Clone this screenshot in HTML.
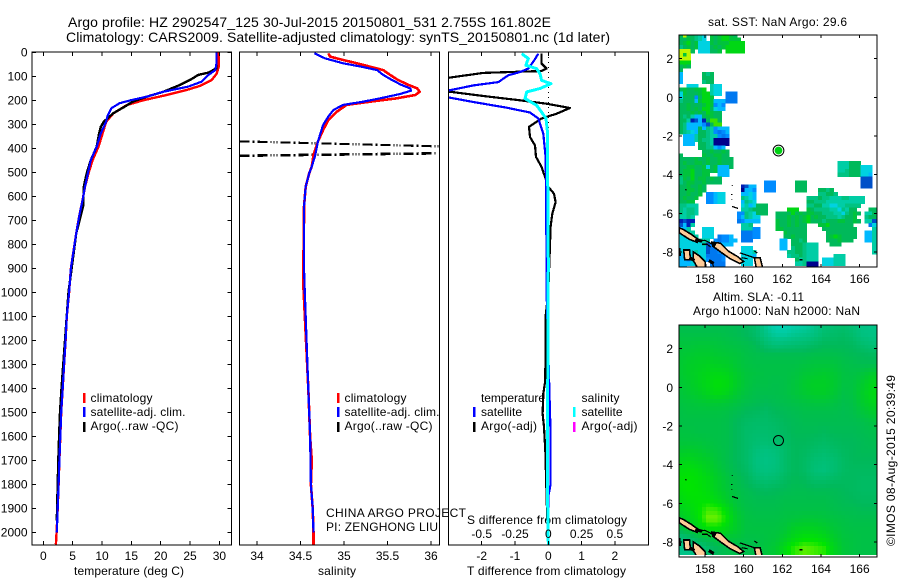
<!DOCTYPE html>
<html>
<head>
<meta charset="utf-8">
<title>Argo profile</title>
<style>
html,body{margin:0;padding:0;background:#fff;}
svg{display:block;}
text{font-family:"Liberation Sans",sans-serif;font-size:12px;fill:#000;}
.t14{font-size:14px;}
</style>
</head>
<body>
<svg id="fig" xmlns="http://www.w3.org/2000/svg" width="900" height="580" viewBox="0 0 900 580">
<defs>
<clipPath id="clipT"><rect x="32" y="52" width="199.5" height="493"/></clipPath>
<clipPath id="clipS"><rect x="239.5" y="52" width="200" height="493"/></clipPath>
<clipPath id="clipD"><rect x="448.5" y="52" width="200" height="493"/></clipPath>
<clipPath id="clipM1"><rect x="679" y="35" width="198" height="232"/></clipPath>
<clipPath id="clipM2"><rect x="679" y="325" width="198" height="230"/></clipPath>
</defs>
<rect width="900" height="580" fill="#fff"/>

<text class="t14" x="68" y="27" textLength="483">Argo profile: HZ 2902547_125 30-Jul-2015 20150801_531 2.755S 161.802E</text>
<text class="t14" x="66" y="42" textLength="544">Climatology: CARS2009. Satellite-adjusted climatology: synTS_20150801.nc (1d later)</text>

<text x="74" y="575" textLength="110">temperature (deg C)</text>
<text x="318" y="575" textLength="38">salinity</text>
<text x="467" y="575" textLength="159">T difference from climatology</text>
<text x="467" y="524" textLength="160">S difference from climatology</text>

<g id="panels"></g>

<g>
<rect x="83" y="393" width="2.5" height="10" fill="#f00"/>
<rect x="83" y="407" width="2.5" height="10" fill="#00f"/>
<rect x="83" y="422" width="2.5" height="10" fill="#000"/>
<text x="90.5" y="402" textLength="62">climatology</text>
<text x="90.5" y="416" textLength="95">satellite-adj. clim.</text>
<text x="90.5" y="430" textLength="88">Argo(..raw -QC)</text>
</g>
<g>
<rect x="337" y="393" width="2.5" height="10" fill="#f00"/>
<rect x="337" y="407" width="2.5" height="10" fill="#00f"/>
<rect x="337" y="422" width="2.5" height="10" fill="#000"/>
<text x="344.5" y="402" textLength="62">climatology</text>
<text x="344.5" y="416" textLength="95">satellite-adj. clim.</text>
<text x="344.5" y="430" textLength="88">Argo(..raw -QC)</text>
</g>
<g>
<text x="481" y="402" textLength="64">temperature</text>
<text x="581.5" y="402" textLength="38">salinity</text>
<rect x="473" y="407" width="2.5" height="10" fill="#00f"/>
<rect x="473" y="422" width="2.5" height="10" fill="#000"/>
<rect x="573" y="407" width="2.5" height="10" fill="#0ff"/>
<rect x="573" y="422" width="2.5" height="10" fill="#f0f"/>
<text x="481" y="416" textLength="41">satellite</text>
<text x="481" y="430" textLength="56">Argo(-adj)</text>
<text x="581.5" y="416" textLength="41">satellite</text>
<text x="581.5" y="430" textLength="56">Argo(-adj)</text>
</g>

<text x="326" y="517" textLength="140">CHINA ARGO PROJECT</text>
<text x="326" y="531" textLength="112">PI: ZENGHONG LIU</text>

<text x="708" y="26" textLength="139">sat. SST: NaN Argo: 29.6</text>
<text x="713" y="301" textLength="91">Altim. SLA: -0.11</text>
<text x="693" y="315" textLength="167">Argo h1000: NaN h2000: NaN</text>
<text transform="translate(895,546) rotate(-90)" x="0" y="0" textLength="171">©IMOS 08-Aug-2015 20:39:49</text>
</svg>

<script>
/* ---------- depth axis ---------- */
const depthTicks = [0,100,200,300,400,500,600,700,800,900,1000,1100,1200,1300,1400,1500,1600,1700,1800,1900,2000];

/* ---------- temperature panel ---------- */
const tempTicks = [0,5,10,15,20,25,30];
const tempClimDepth = [0,60,90,115,140,157,178,200,220,255,290,338,393,449,504,560,615,685,755,900,1000,1100,1200,1300,1400,1500,1600,1700,1800,1900,2000,2050];
const tempClimValue = [29.9,29.9,29.5,28.7,26.7,24.4,21,17,14.2,11.9,10.7,10.1,9.4,8.4,7.7,7.1,6.7,6.1,5.6,4.7,4.4,4.0,3.8,3.55,3.3,3.05,2.9,2.75,2.6,2.45,2.27,2.15];
const tempArgoDepth = [0,67,85,94,115,136,164,185,205,226,254,289,310,338,393,449,504,560,640,755,1000,1400,1500,1600,1700,1800,1950];
const tempArgoValue = [29.5,29.5,28.1,26.4,25,23.3,20.5,17.6,15.3,13.9,11.9,10.3,9.8,9.5,9.1,8.1,7.4,6.9,6.8,5.6,4.3,3.1,2.85,2.7,2.55,2.45,2.3];
const tempSatDepth = [0,45,74,95,122,143,164,185,199,212,233,268,289,338,393,449,504,560,615,685,755,900,1000,1100,1200,1300,1400,1500,1600,1700,1800,1900,2000];
const tempSatValue = [29.5,29.5,29.3,28.1,27,24.7,20.5,17.6,15,13,11.6,10.9,10.7,9.8,9.1,8.1,7.6,7.1,6.7,6.1,5.6,4.7,4.4,4.0,3.8,3.55,3.3,3.05,2.9,2.75,2.6,2.45,2.3];

/* ---------- salinity panel ---------- */
const salTicks = [34,34.5,35,35.5,36];
const salClimDepth = [4,18,32,46,60,74,94,115,136,150,164,178,192,206,219,247,282,324,372,428,476,504,560,643,700,950,1400,1600,1700,1800,1900,2000,2050];
const salClimValue = [34.82,34.84,34.99,35.15,35.3,35.45,35.53,35.62,35.74,35.84,35.87,35.82,35.6,35.3,35.03,34.92,34.82,34.76,34.7,34.65,34.63,34.6,34.56,34.54,34.54,34.53,34.59,34.61,34.63,34.62,34.64,34.65,34.65];
const salSatDepth = [4,25,46,60,74,94,115,136,150,160,174,192,206,219,240,268,303,372,428,476,504,560,643,700,900,1000,1400,1600,1800,1900,2000];
const salSatValue = [34.66,34.78,34.99,35.2,35.38,35.45,35.55,35.66,35.76,35.77,35.64,35.41,35.22,34.99,34.88,34.82,34.76,34.7,34.67,34.63,34.6,34.56,34.54,34.54,34.54,34.55,34.59,34.61,34.62,34.64,34.65];
const salArgoUpperValue = [33.8,36.1];
const salArgoUpperDepth = [371,392];
const salArgoLowerValue = [33.8,36.05];
const salArgoLowerDepth = [431,421];

/* ---------- difference panel ---------- */
const tDiffTicks = [-2,-1,0,1,2];
const sDiffTicks = [-0.5,-0.25,0,0.25,0.5];
const sDiffTickLabels = ["-0.5","-0.25","0","0.25","0.5"];
const tDiffArgoDepth = [6,47,68,78,86,110,160,182,200,214,232,256,276,311,353,388,436,478,519,561,589,624,672,728,1000,1100,1367,1422,1506,1561,1658,1853,1950];
const tDiffArgoValue = [-0.2,-0.2,-0.05,-0.2,-1.95,-3.2,-3.2,-1.95,-0.85,-0.05,0.65,0.25,-0.2,-0.58,-0.55,-0.4,-0.37,-0.2,-0.1,0,0.17,0.22,0.12,0.07,0.0,-0.08,-0.09,-0.15,-0.17,-0.13,-0.09,-0.05,-0.03];
const tDiffSatDepth = [6,33,68,82,96,124,138,158,165,183,207,231,251,276,339,436,533,672,825,1000,1500,1600,1800,1850,1950];
const tDiffSatValue = [-0.3,-0.42,-0.6,-0.85,-1.2,-1.5,-2.25,-2.95,-3.2,-3.2,-2.25,-1.25,-0.55,-0.3,-0.15,-0.08,-0.07,-0.07,-0.05,-0.05,0.05,0.07,0.07,0,0];
const sDiffSatDepth = [6,26,54,68,89,117,131,151,165,193,221,249,276,325,464,881,1500,1850,2050];
const sDiffSatValue = [-0.2,-0.15,-0.168,-0.0875,-0.0625,-0.05,0.02,-0.0625,-0.1625,-0.175,-0.0875,-0.05,-0.0175,-0.0075,-0.005,0,-0.005,-0.005,0];

/* ---------- maps ---------- */
const lonTicks = [158,160,162,164,166];
const latTicks = [2,0,-2,-4,-6,-8];
const argoLon = 161.802;
const argoLat = -2.755;
/* SST cells: 0.2 deg grid, first row centred on 3.2N, letters index sstPalette, "." = NaN */
const sstPalette = {a:"#00008c",b:"#001eb4",c:"#0050c8",d:"#0078f0",e:"#008cff",f:"#00b9ff",g:"#00d2e1",h:"#00cda5",i:"#00c382",j:"#00b95a",k:"#00c33c",l:"#00d714",m:"#3ce100",n:"#beF500"};
const sstRows = [
"jnjjihg.kjkllkj",
"jjkjihg.kjkllkkk",
"jkljkgggkjkkkllll",
"ijkjkgggjkjklllll",
"nnnj.gggjjk.lllll",
"nkn",
"nnn",
"lll",
"jkj",
"j",
"f.....jij",
"f.....jjj",
"f.....ijj",
"..ggg...hgg",
"jkjjkkl.hgg",
"gkjjjkllhgg.ddd",
"gjjjejllk...ddd",
"ijjjfkllkfffddd",
"jjkjjjklkefe",
"jjkjkjlljgff",
"jjjkjkjlkjj",
"jijhffjkkjj",
"jjhbcfbjmmj",
"jiffffecjmm",
"jifffjfihefff",
"jihgfjjihedef",
".fffhjjihhede",
".fffhjiihaaaa",
".fff.jjihaaaa",
".....jjiifef",
"......jjkjjkj",
"j.....kjjkkjj",
"jjjjkjjkjjkjjj",
"jkjjkkjkjjkjjj...........................hhhjjj",
"jjkkjjkgjkfffj...........................hhhjjjggg",
"jkkljjkkjkfff............................hhijjjggg",
"jkkljjkk..fff............................iiijjjggf",
"ikjljkkjkjj....................................ccc",
"ijkkjjkjjjj...........eee.....jjj..............ccc",
"jjkjjkj.........bcff..eee.....jjj..............ccc",
"jjkkjkj.........affe..eee.....jjj...jjij",
"jjkjjk.eefgg....ffgf................iijji",
"jkjjk..eefgg....ihgf.............iiijiihhhiihhhh",
"jjkk...eefgg....fihg.............jjiiihhhhhhhhhh",
"iihhh...........ghfgjjj..........iijjhhgghhiiii",
"ihiih...........hhijjjj.....lll..kjiiiihhgihjj...jj",
"ihiih..........eeihgjjj..jjjjljkjkkjjiiihhgijkj.hhj",
"hhih...........efihgg....jjjkjkjkljkjjiiihijjk..ijj",
"bcbb...........deffff....kjjkjkjkljjjijjjkkjjkj.hhc",
"cfbh............hhi......kjjkjkjj...kkljjjjjj....dg",
"ffh...ggg.......hhhee....kkjjjjjj....jjjjjjjjj....h",
"hhhh..ggg.......dddee......kjjjjj.....jjjjjjjj..ffh",
"ggghh.ggg.deef..dddee......jjkjjj.....jklkjjjj..ffh",
"gggghhhh.edeeff.ddd.......ff.jjij.....jjjkjjj...ffh",
"gggggghcdeffff............ff.jjjihhh...jjj........h",
"gggggggcddff....ggg.......ff.ijjihhh..............h",
"gfgghggcdde.....gggh........iijjihhh..............h",
"fffggggdddde....gggf........hiijihhh....hhh",
"ffeggggeddde....ggg...........jhihhh.ggghhh",
"fffgg...dddd....ggg...........hhiaaa.ggghhh",
"ff......dddd.....................aaa"
];
/* SLA field, 0.5 deg grid from 3.2N, 156.65E; value indexes slaStops */
const slaStops = [[0,215,200],[0,195,135],[0,185,90],[0,205,40],[0,228,0],[110,240,0]];
const slaRows = [
[2.2,2.2,2.2,2.2,2.2,2.2,2.1,1.9,1.6,0.8,0.3,0.3,0.5,0.6,0.9,1.4,1.5,1.6,1.4,1.1,1.0],
[2.4,2.4,2.4,2.4,2.4,2.3,2.2,2.0,1.7,1.1,0.7,0.7,0.9,1.0,1.2,1.6,1.7,1.8,1.6,1.2,1.1],
[2.6,2.6,2.7,2.7,2.6,2.5,2.4,2.3,2.1,1.6,1.3,1.4,1.5,1.6,1.8,2.0,2.0,2.0,1.9,1.6,1.4],
[2.7,2.8,2.9,2.9,2.8,2.7,2.6,2.4,2.3,2.2,2.2,2.2,2.2,2.2,2.3,2.3,2.3,2.2,2.1,2.0,1.9],
[2.8,3.0,3.1,3.2,3.1,3.0,2.7,2.5,2.4,2.4,2.4,2.4,2.4,2.5,2.6,2.6,2.6,2.4,2.3,2.2,2.2],
[2.8,3.0,3.2,3.4,3.5,3.3,2.9,2.6,2.5,2.4,2.4,2.4,2.5,2.7,2.8,2.9,2.8,2.5,2.4,2.6,2.9],
[2.7,2.9,3.2,3.5,3.8,3.6,3.0,2.6,2.4,2.4,2.3,2.4,2.6,2.9,3.1,3.1,2.9,2.5,2.5,2.9,3.4],
[2.6,2.8,3.0,3.3,3.6,3.3,2.8,2.5,2.3,2.3,2.3,2.4,2.6,2.8,3.0,3.0,2.8,2.4,2.5,3.0,3.5],
[2.5,2.6,2.7,2.8,2.8,2.7,2.5,2.3,2.2,2.1,2.2,2.3,2.4,2.5,2.6,2.6,2.5,2.3,2.4,2.9,3.3],
[2.4,2.5,2.5,2.5,2.5,2.4,2.2,2.0,1.9,1.8,2.0,2.1,2.2,2.3,2.3,2.3,2.3,2.2,2.3,2.6,2.9],
[2.4,2.4,2.4,2.4,2.4,2.3,2.0,1.8,1.7,1.7,1.8,2.0,2.1,2.2,2.2,2.2,2.2,2.2,2.2,2.3,2.5],
[2.5,2.5,2.4,2.4,2.4,2.3,2.0,1.7,1.6,1.6,1.7,1.9,2.1,2.1,2.1,2.0,2.1,2.1,2.1,2.2,2.3],
[2.6,2.6,2.6,2.5,2.4,2.3,2.0,1.7,1.5,1.5,1.6,1.8,2.0,2.0,1.9,1.8,1.9,2.0,2.0,2.1,2.2],
[2.9,3.0,2.9,2.7,2.5,2.3,2.0,1.7,1.3,1.2,1.3,1.7,2.0,1.9,1.7,1.6,1.7,1.9,2.0,2.1,2.1],
[3.3,3.4,3.2,3.0,2.6,2.3,2.0,1.7,1.2,1.1,1.2,1.7,2.0,1.8,1.5,1.4,1.5,1.8,2.0,2.0,2.0],
[3.7,3.8,3.6,3.2,2.8,2.4,2.1,1.8,1.3,1.2,1.3,1.7,2.0,1.8,1.4,1.3,1.5,1.8,1.9,1.9,1.9],
[3.9,4.0,3.8,3.5,3.0,2.6,2.3,2.0,1.6,1.5,1.6,1.9,2.1,2.0,1.7,1.7,1.8,1.9,1.9,1.8,1.8],
[3.8,4.0,3.9,3.6,3.1,2.7,2.4,2.2,2.0,1.9,2.0,2.1,2.2,2.2,2.1,2.1,2.1,2.0,1.9,1.8,1.8],
[3.5,3.8,3.9,3.8,3.4,2.9,2.5,2.3,2.2,2.2,2.2,2.3,2.3,2.3,2.3,2.3,2.2,2.1,2.0,1.9,1.9],
[3.2,3.5,3.9,4.5,4.4,3.5,2.7,2.4,2.3,2.3,2.3,2.4,2.4,2.4,2.4,2.4,2.3,2.2,2.2,2.1,2.1],
[2.8,3.2,3.8,5.0,5.0,3.9,2.9,2.5,2.4,2.4,2.4,2.5,2.6,2.7,2.7,2.6,2.5,2.4,2.3,2.3,2.3],
[2.3,2.8,3.3,3.8,3.9,3.4,2.9,2.5,2.5,2.5,2.5,2.7,3.1,3.2,3.2,3.0,2.7,2.5,2.4,2.4,2.4],
[1.3,1.6,2.2,2.4,2.7,2.7,2.6,2.4,2.4,2.5,2.6,3.0,3.5,3.8,3.8,3.5,3.0,2.6,2.5,2.4,2.4],
[1.0,1.0,1.2,1.7,2.1,2.3,2.3,2.3,2.3,2.6,2.8,3.6,4.4,4.8,4.6,4.3,3.3,2.7,2.5,2.4,2.4]
];
/* coastline outlines, [lon,lat] */
const landPolygons = [
[[156.67,-6.75],[156.9,-6.85],[157.3,-7.1],[157.65,-7.35],[157.6,-7.5],[157.2,-7.35],[156.8,-7.1],[156.67,-7.0]],
[[158.4,-7.5],[158.8,-7.55],[159.2,-7.95],[159.7,-8.25],[160,-8.5],[159.8,-8.6],[159.3,-8.35],[158.8,-8.0],[158.4,-7.7]],
[[156.9,-7.9],[157.2,-7.9],[157.25,-8.4],[156.95,-8.4]],
[[157.4,-8.0],[157.7,-8.2],[158.0,-8.5],[158.05,-8.8],[157.6,-8.8],[157.4,-8.45]],
[[160.55,-8.3],[160.85,-8.3],[160.98,-8.8],[160.65,-8.8]]
];
const coastFragments = [
[[157.65,-7.45],[158.0,-7.4],[158.4,-7.6]],
[[157.85,-7.6],[158.1,-7.6],[158.3,-7.75]],
[[159.8,-8.05],[160.1,-8.15],[160.55,-8.3]],
[[159.9,-8.3],[160.2,-8.35]],
[[160.55,-7.95],[160.7,-8.05]],
[[156.7,-7.8],[156.72,-8.2]],
[[158.35,-8.5],[158.45,-8.78]],
[[159.4,-4.55],[159.42,-4.6]],
[[157.0,-4.75],[157.02,-4.82]],
[[159.4,-5.65],[159.7,-5.75]],
[[159.38,-5.0],[159.38,-5.05]],
[[159.38,-5.25],[159.38,-5.3]],
[[162.9,-8.4],[163.05,-8.4]]
];
const coastBlobs = [
[[157.5,-7.35],[157.85,-7.45]],
[[158.3,-7.5],[158.55,-7.65]],
[[158.2,-8.45],[158.45,-8.6]],
[[157.2,-8.3],[157.45,-8.45]]
];

/* ---------- axis functions ---------- */
const yDepth = d => 52.3 + 0.24 * d;
const xTemp = t => 43.3 + 5.87 * t;
const xSal = s => 257 + 87 * (s - 34);
const xTDiff = t => 548.3 + 33.3 * t;
const xSDiff = s => 548.3 + 133.2 * s;
const xLon = lon => 705 + 19.33 * (lon - 158);
const yLatTop = lat => 97.3 - 19.33 * lat;
const yLatBot = lat => 387.3 - 19.33 * lat;

const NS = "http://www.w3.org/2000/svg";
const root = document.getElementById("panels");
function make(tag, attrs, parent) {
  const n = document.createElementNS(NS, tag);
  for (const k in attrs) n.setAttribute(k, attrs[k]);
  (parent || root).appendChild(n);
  return n;
}
function label(str, x, y, anchor) {
  const t = make("text", {x: x, y: y, "text-anchor": anchor});
  t.textContent = str;
  return t;
}
function tick(x1, y1, x2, y2) {
  return make("line", {x1: x1, y1: y1, x2: x2, y2: y2, stroke: "#000", "stroke-width": 1, "shape-rendering": "crispEdges"});
}
function frame(x, y, w, h) {
  return make("rect", {x: x, y: y, width: w, height: h, fill: "none", stroke: "#000", "stroke-width": 1.2, "shape-rendering": "crispEdges"});
}
function profile(depths, values, xFn, color, width, clip) {
  const pts = depths.map((d, i) => xFn(values[i]).toFixed(1) + "," + yDepth(d).toFixed(1)).join(" ");
  return make("polyline", {points: pts, fill: "none", stroke: color, "stroke-width": width, "stroke-linejoin": "round", "shape-rendering": "crispEdges", "clip-path": "url(#" + clip + ")"});
}
function xTicks(values, xFn, labels, labelY, top, bottom) {
  values.forEach((v, i) => {
    const a = tick(xFn(v), bottom, xFn(v), bottom - 4);
    
    
    const b = tick(xFn(v), top, xFn(v), top + 4);
    
    
    const t = label(labels ? labels[i] : String(v), xFn(v), labelY, "middle");
    
    
  });
}

/* ---------- temperature panel ---------- */
const l1 = profile(tempClimDepth, tempClimValue, xTemp, "#f00", 2.4, "clipT");


const l2 = profile(tempArgoDepth, tempArgoValue, xTemp, "#000", 2.4, "clipT");


const l3 = profile(tempSatDepth, tempSatValue, xTemp, "#00f", 2.2, "clipT");


const f1 = frame(32, 52, 199.5, 493);


xTicks(tempTicks, xTemp, null, 560, 52, 545);
depthTicks.forEach(d => {
  const a = tick(32, yDepth(d), 36, yDepth(d));
  
  
  const b = tick(231.5, yDepth(d), 227.5, yDepth(d));
  
  
  const t = label(String(d), 27.5, yDepth(d) + 4, "end");
  
  
});

/* ---------- salinity panel ---------- */
const dashDot = "10,3,2,3,10,3,1,2,1,2,1,3";
const s0 = make("polyline", {points: salArgoUpperValue.map((v, i) => xSal(v) + "," + yDepth(salArgoUpperDepth[i])).join(" "), fill: "none", stroke: "#000", "stroke-width": 2.2, "stroke-dasharray": dashDot, "shape-rendering": "crispEdges", "clip-path": "url(#clipS)"});


const s00 = make("polyline", {points: salArgoLowerValue.map((v, i) => xSal(v) + "," + yDepth(salArgoLowerDepth[i])).join(" "), fill: "none", stroke: "#000", "stroke-width": 2.6, "stroke-dasharray": dashDot, "shape-rendering": "crispEdges", "clip-path": "url(#clipS)"});


const s1 = profile(salClimDepth, salClimValue, xSal, "#f00", 2.6, "clipS");


const s2 = profile(salSatDepth, salSatValue, xSal, "#00f", 2.2, "clipS");


const f2 = frame(239.5, 52, 200, 493);


xTicks(salTicks, xSal, null, 560, 52, 545);

/* ---------- difference panel ---------- */
const zero = make("line", {x1: xTDiff(0), y1: 52, x2: xTDiff(0), y2: 545, stroke: "#000", "stroke-width": 1, "stroke-dasharray": "1,4", "shape-rendering": "crispEdges"});


const d1 = profile(tDiffArgoDepth, tDiffArgoValue, xTDiff, "#000", 2.2, "clipD");


const d2 = profile(tDiffSatDepth, tDiffSatValue, xTDiff, "#00f", 2.2, "clipD");


const d3 = profile(sDiffSatDepth, sDiffSatValue, xSDiff, "#0ff", 3, "clipD");


const f3 = frame(448.5, 52, 200, 493);


xTicks(tDiffTicks, xTDiff, null, 560, 52, 545);
sDiffTicks.forEach((v, i) => {
  const t = label(sDiffTickLabels[i], xSDiff(v), 538, "middle");
  
  
});

/* ---------- maps ---------- */
const cellLon = 0.2, cellLat = 0.2;
const lonStart = 156.65, latStart = 3.2;

function drawLand(yLat, clip) {
  landPolygons.forEach(poly => {
    const p = make("polygon", {points: poly.map(q => xLon(q[0]).toFixed(1) + "," + yLat(q[1]).toFixed(1)).join(" "), fill: "#ffcc99", stroke: "#000", "stroke-width": 1.6, "shape-rendering": "crispEdges", "clip-path": "url(#" + clip + ")"});
    
    
  });
  coastFragments.forEach(line => {
    const p = make("polyline", {points: line.map(q => xLon(q[0]).toFixed(1) + "," + yLat(q[1]).toFixed(1)).join(" "), fill: "none", stroke: "#000", "stroke-width": 1.2, "shape-rendering": "crispEdges", "clip-path": "url(#" + clip + ")"});
    
    
  });
  coastBlobs.forEach(line => {
    const p = make("polyline", {points: line.map(q => xLon(q[0]).toFixed(1) + "," + yLat(q[1]).toFixed(1)).join(" "), fill: "none", stroke: "#000", "stroke-width": 3.2, "shape-rendering": "crispEdges", "clip-path": "url(#" + clip + ")"});
    
    
  });
}
function drawMapAxes(yLat, top, bottom) {
  const fr = frame(679, top, 198, bottom - top);
  
  
  lonTicks.forEach(lon => {
    const a = tick(xLon(lon), bottom, xLon(lon), bottom - 3);
    
    
    const b = tick(xLon(lon), top, xLon(lon), top + 3);
    
    
    const t = label(String(lon), xLon(lon), bottom + 16, "middle");
    
    
  });
  latTicks.forEach(lat => {
    const a = tick(679, yLat(lat), 682, yLat(lat));
    
    
    const b = tick(877, yLat(lat), 874, yLat(lat));
    
    
    const t = label(String(lat), 673, yLat(lat) + 4.5, "end");
    
    
  });
}

/* SST map */
const sstGroup = make("g", {"clip-path": "url(#clipM1)", "shape-rendering": "crispEdges"});


sstRows.forEach((row, r) => {
  for (let c = 0; c < row.length; c++) {
    const ch = row[c];
    if (ch === ".") continue;
    const lon0 = lonStart + c * cellLon;
    const lat0 = latStart + cellLat / 2 - r * cellLat;
    const cell = make("rect", {x: xLon(lon0).toFixed(2), y: yLatTop(lat0).toFixed(2), width: (19.33 * cellLon + 0.4).toFixed(2), height: (19.33 * cellLat + 0.4).toFixed(2), fill: sstPalette[ch]}, sstGroup);
    
    
  }
});
drawLand(yLatTop, "clipM1");
const ringOuter = make("circle", {cx: xLon(argoLon), cy: yLatTop(argoLat), r: 5.4, fill: "#fff", stroke: "#000", "stroke-width": 1});


const dot = make("circle", {cx: xLon(argoLon), cy: yLatTop(argoLat), r: 3.9, fill: "#00d214"});


drawMapAxes(yLatTop, 35, 267);

/* SLA map */
function slaValue(lon, lat) {
  const fx = Math.max(0, Math.min(slaRows[0].length - 1.001, (lon - lonStart) / 0.5));
  const fy = Math.max(0, Math.min(slaRows.length - 1.001, (latStart - lat) / 0.5));
  const i = Math.floor(fx), j = Math.floor(fy), u = fx - i, v = fy - j;
  return (slaRows[j][i] * (1 - u) + slaRows[j][i + 1] * u) * (1 - v) + (slaRows[j + 1][i] * (1 - u) + slaRows[j + 1][i + 1] * u) * v;
}
function slaColor(v) {
  const p = Math.max(0, Math.min(4.999, v));
  const i = Math.floor(p), f = p - i;
  const a = slaStops[i], b = slaStops[i + 1];
  return "rgb(" + a.map((ch, k) => Math.round(ch + (b[k] - ch) * f)).join(",") + ")";
}
const slaGroup = make("g", {"clip-path": "url(#clipM2)", "shape-rendering": "crispEdges"});


for (let r = 0; r < 60; r++) {
  for (let c = 0; c < 52; c++) {
    const lon0 = lonStart + c * cellLon;
    const lat0 = latStart - r * cellLat;
    const cell = make("rect", {x: xLon(lon0).toFixed(2), y: yLatBot(lat0).toFixed(2), width: (19.33 * cellLon + 0.4).toFixed(2), height: (19.33 * cellLat + 0.4).toFixed(2), fill: slaColor(slaValue(lon0 + 0.1, lat0 - 0.1))}, slaGroup);
    
    
  }
}
drawLand(yLatBot, "clipM2");
const ring2 = make("circle", {cx: xLon(argoLon), cy: yLatBot(argoLat), r: 5, fill: "none", stroke: "#000", "stroke-width": 1});


drawMapAxes(yLatBot, 325, 557);
</script>
</body>
</html>
